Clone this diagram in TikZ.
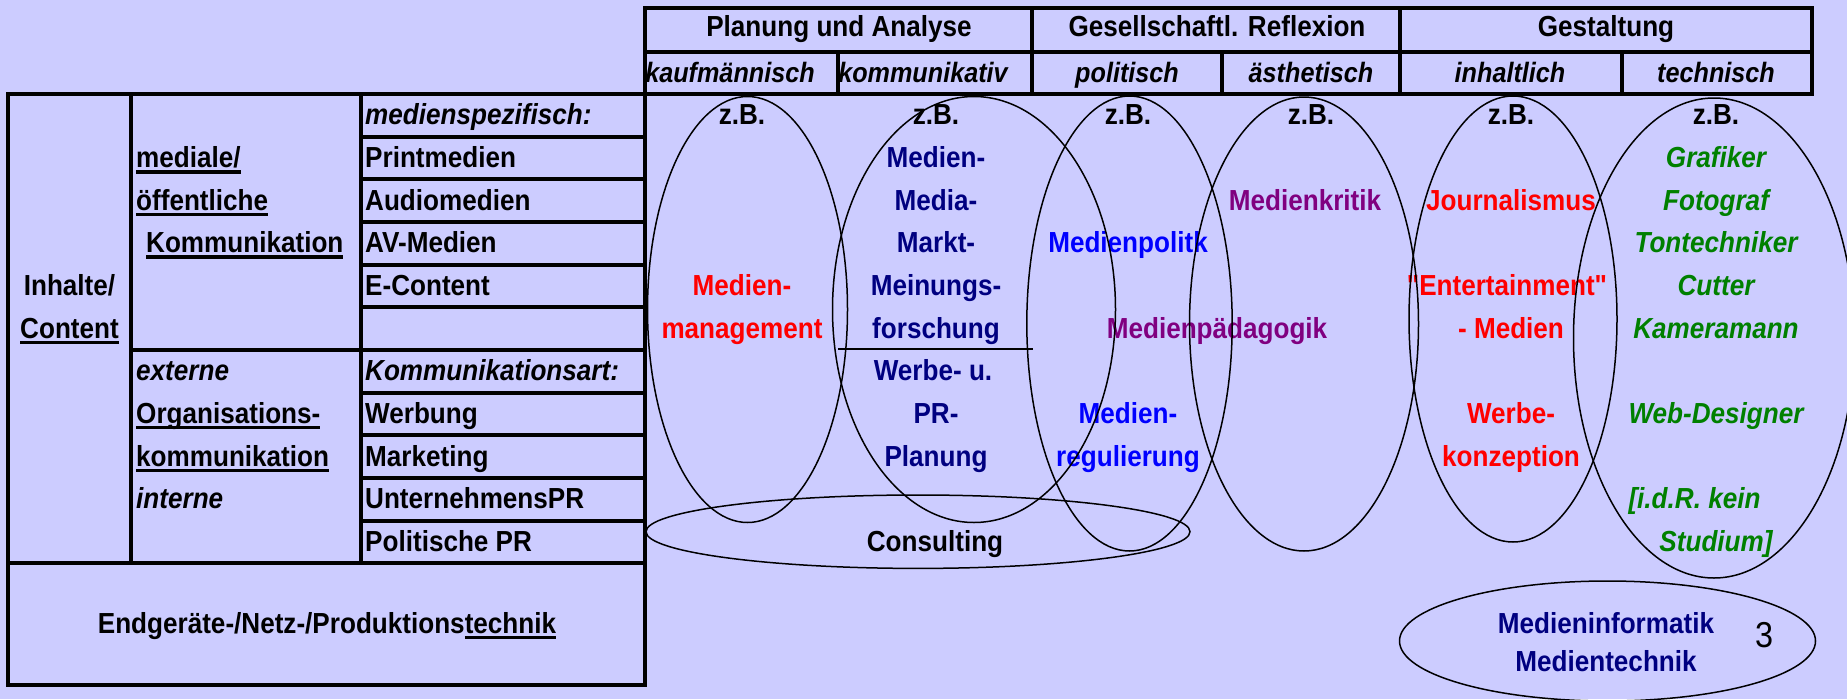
\documentclass[tikz,border=0pt]{standalone}
\usepackage{fontspec}
\setmainfont{Liberation Sans}[FakeStretch=0.9,Ligatures=TeXOff]
\definecolor{bg}{HTML}{CCCCFF}
\definecolor{navyc}{HTML}{000080}
\definecolor{bluec}{HTML}{0000FF}
\definecolor{redc}{HTML}{FF0000}
\definecolor{purplec}{HTML}{800080}
\definecolor{greenc}{HTML}{008000}
\newcommand\bodyfont{\fontsize{29}{34}\selectfont\bfseries}
\newcommand\subfont{\fontsize{28}{32}\selectfont\bfseries\itshape}
% underline drawn as a rule from 2.5pt to 6pt below the baseline
\newcommand\ulx[1]{\setbox0\hbox{#1}\rlap{\vrule height -2.5pt depth 6pt width \wd0}\box0}
\begin{document}
\begin{tikzpicture}[x=1pt,y=-1pt,
  grid/.style={line width=4pt,line cap=rect},
  ring/.style={line width=1.5pt},
  t/.style={anchor=base,inner sep=0pt,font=\bodyfont},
  tl/.style={t,anchor=base west},
  ti/.style={t,font=\bodyfont\itshape},
  til/.style={ti,anchor=base west},
  sub/.style={t,font=\subfont},
  red/.style={t,text=redc},
  navy/.style={t,text=navyc},
  blu/.style={t,text=bluec},
  pur/.style={t,text=purplec},
  grn/.style={ti,text=greenc}]
\useasboundingbox (0,0) rectangle (1847,699);
\clip (0,0) rectangle (1847,699);
\fill[bg] (0,0) rectangle (1847,699);

% ---- header grid
\draw[grid] (645,8) -- (1812,8);
\draw[grid] (645,52) -- (1812,52);
\draw[grid] (8,94) -- (1812,94);
\foreach \x in {645,1032,1400,1812} \draw[grid] (\x,8) -- (\x,94);
\foreach \x in {838,1222,1622} \draw[grid] (\x,52) -- (\x,94);

% ---- left table grid
\draw[grid] (8,94) -- (8,685) -- (645,685) -- (645,94);
\draw[grid] (8,563.3) -- (645,563.3);
\draw[grid] (130.6,94) -- (130.6,563.3);
\draw[grid] (360.6,94) -- (360.6,563.3);
\foreach \y in {136.7,179.3,222,264.7,307.3,392.7,435.3,478,520.7}
  \draw[grid] (360.6,\y) -- (645,\y);
\draw[grid] (130.6,350) -- (645,350);

% ---- header labels
\node[t] (hPA) at (839,36) {Planung und Analyse};
\node[t] (hGR) at (1217,36) {Gesellschaftl. Reflexion};
\node[t] (hGE) at (1606,36) {Gestaltung};
\node[sub] (sKa) at (730,82) {kaufmännisch};
\node[sub] (sKo) at (923,82) {kommunikativ};
\node[sub] (sPo) at (1127,82) {politisch};
\node[sub] (sAe) at (1311,82) {ästhetisch};
\node[sub] (sIn) at (1510,82) {inhaltlich};
\node[sub] (sTe) at (1716,82) {technisch};

% ---- left column labels
\node[t] (c1a) at (69.5,295.4) {Inhalte/};
\node[t] (c1b) at (69.5,338.1) {\ulx{Content}};

\node[tl] (c2a) at (136,167.5) {\ulx{mediale/}};
\node[tl] (c2b) at (136,210.1) {\ulx{öffentliche}};
\node[tl] (c2c) at (146,252.8) {\ulx{Kommunikation}};
\node[til] (c2d) at (136,380.7) {externe};
\node[tl] (c2e) at (136,423.4) {\ulx{Organisations-}};
\node[tl] (c2f) at (136,466.0) {\ulx{kommunikation}};
\node[til] (c2g) at (136,508.7) {interne};

\node[til] (c3a) at (365,124.8) {medienspezifisch:};
\node[tl] (c3b) at (365,167.5) {Printmedien};
\node[tl] (c3c) at (365,210.1) {Audiomedien};
\node[tl] (c3d) at (365,252.8) {AV-Medien};
\node[tl] (c3e) at (365,295.4) {E-Content};
\node[til] (c3f) at (365,380.7) {Kommunikationsart:};
\node[tl] (c3g) at (365,423.4) {Werbung};
\node[tl] (c3h) at (365,466.0) {Marketing};
\node[tl] (c3i) at (365,508.7) {UnternehmensPR};
\node[tl] (c3j) at (365,551.3) {Politische PR};

\node[t] (tech) at (327,633) {Endgeräte-/Netz-/Produktions\ulx{technik}};

% ---- examples per column
\foreach \x/\n in {742/1,936/2,1128/3,1311/4,1511/5,1716/6}
  \node[t] (zb\n) at (\x,124.8) {z.B.};

\node[red] (mm1) at (742,295.4) {Medien-};
\node[red] (mm2) at (742,338.1) {management};

\node[navy] (mf1) at (936,167.5) {Medien-};
\node[navy] (mf2) at (936,210.1) {Media-};
\node[navy] (mf3) at (936,252.8) {Markt-};
\node[navy] (mf4) at (936,295.4) {Meinungs-};
\node[navy] (mf5) at (936,338.1) {forschung};
\node[navy] (wp1) at (933,380.7) {Werbe- u.};
\node[navy] (wp2) at (936,423.4) {PR-};
\node[navy] (wp3) at (936,466.0) {Planung};
\draw[line width=2.5pt] (838,349) -- (1033,349);

\node[blu] (mp) at (1128,252.8) {Medienpolitk};
\node[blu] (mr1) at (1128,423.4) {Medien-};
\node[blu] (mr2) at (1128,466.0) {regulierung};

\node[pur] (mk) at (1305,210.1) {Medienkritik};
\node[pur] (mpd) at (1217,338.1) {Medienpädagogik};

\node[red] (jo) at (1511,210.1) {Journalismus};
\node[red] (en1) at (1507,295.4) {"Entertainment"};
\node[red] (en2) at (1511,338.1) {- Medien};
\node[red] (wk1) at (1511,423.4) {Werbe-};
\node[red] (wk2) at (1511,466.0) {konzeption};

\node[grn] (g1) at (1716,167.5) {Grafiker};
\node[grn] (g2) at (1716,210.1) {Fotograf};
\node[grn] (g3) at (1716,252.8) {Tontechniker};
\node[grn] (g4) at (1716,295.4) {Cutter};
\node[grn] (g5) at (1716,338.1) {Kameramann};
\node[grn] (g6) at (1716,423.4) {Web-Designer};
\node[grn] (g7) at (1694.5,508.7) {[i.d.R. kein};
\node[grn] (g8) at (1716,551.3) {Studium]};

\node[t] (cons) at (935,551.3) {Consulting};

\node[navy] (mi1) at (1606,633.3) {Medieninformatik};
\node[navy] (mi2) at (1606,671.7) {Medientechnik};
\node[anchor=base,inner sep=0pt,font=\fontsize{36}{40}\selectfont] (pg) at (1764,647.3) {3};

% ---- field ellipses
\draw[ring] (747.5,309.5) ellipse [x radius=100pt, y radius=213pt];
\draw[ring] (974,309.5) ellipse [x radius=141.5pt, y radius=213pt];
\draw[ring] (1129.5,323.5) ellipse [x radius=102.7pt, y radius=227.5pt];
\draw[ring] (1304,324) ellipse [x radius=114.5pt, y radius=227pt];
\draw[ring] (1513,319) ellipse [x radius=104pt, y radius=223pt];
\draw[ring] (1714,338) ellipse [x radius=140.5pt, y radius=240pt];
\draw[ring] (918,531.7) ellipse [x radius=272pt, y radius=36.7pt];
\draw[ring] (1607.5,641) ellipse [x radius=208pt, y radius=60pt];
\end{tikzpicture}
\end{document}
